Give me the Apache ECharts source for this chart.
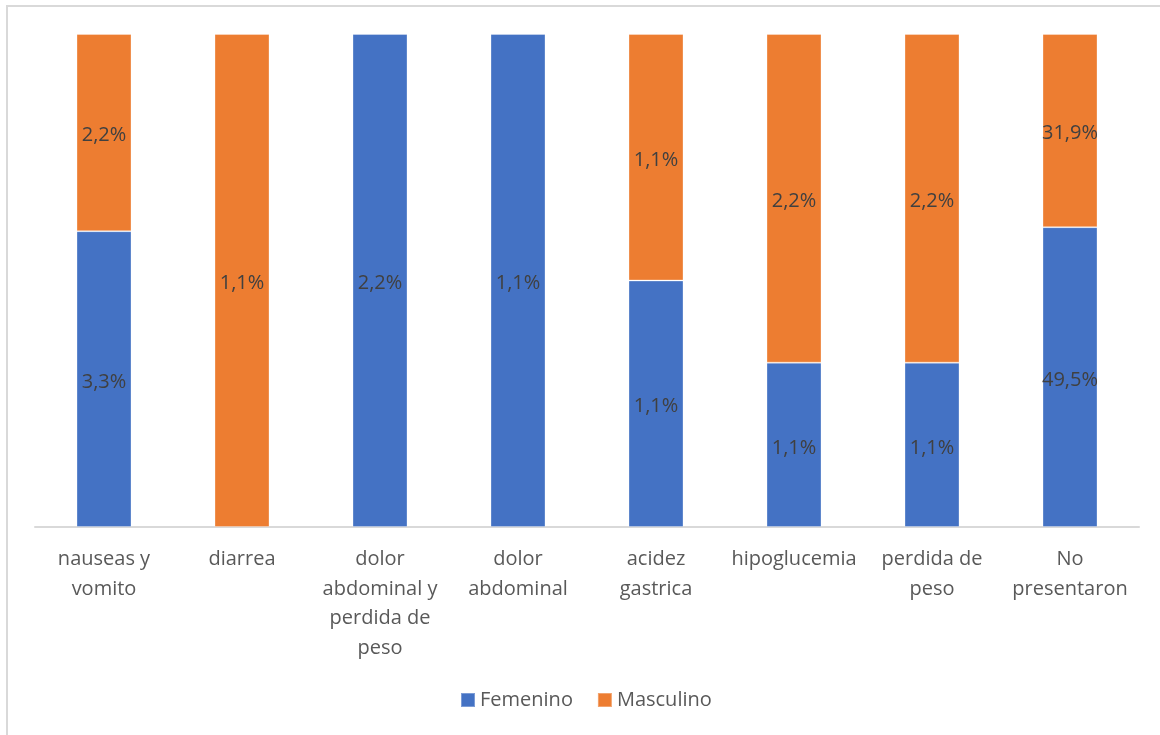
<!DOCTYPE html>
<html>
<head>
<meta charset="utf-8">
<script src="https://cdn.jsdelivr.net/npm/echarts@6/dist/echarts.min.js"></script>
<style>
  html, body { margin: 0; padding: 0; background: #fff; }
  #frame { position: absolute; left: 6px; top: 5px; width: 1200px; height: 800px;
           border: 2px solid #d9d9d9; box-sizing: border-box; }
  #chart { position: absolute; left: 0; top: 0; width: 1160px; height: 735px; }
</style>
</head>
<body>
<div id="frame"></div>
<div id="chart"></div>
<script>
// Symptom categories (tick labels, wrapped as on the axis)
const categories = [
  'nauseas y\nvomito',
  'diarrea',
  'dolor\nabdominal y\nperdida de\npeso',
  'dolor\nabdominal',
  'acidez\ngastrica',
  'hipoglucemia',
  'perdida de\npeso',
  'No\npresentaron'
];
// Percentages per sex (null = no cases)
const femenino  = [3.3, null, 2.2, 1.1, 1.1, 1.1, 1.1, 49.5];
const masculino = [2.2, 1.1, null, null, 1.1, 2.2, 2.2, 31.9];

// Each column is drawn as a 100% stack of its two values
function shares(vals) {
  return vals.map((v, i) => {
    if (v == null) return null;
    const total = (femenino[i] || 0) + (masculino[i] || 0);
    return { value: v / total * 100, raw: v };
  });
}

const fmt = p => (p.data && p.data.raw != null) ? p.data.raw.toFixed(1).replace('.', ',') + '%' : '';
const FONT = '"Open Sans", sans-serif';

const chart = echarts.init(document.getElementById('chart'), null, { renderer: 'canvas' });
chart.setOption({
  animation: false,
  textStyle: { fontFamily: FONT },
  grid: { left: 35, right: 21, top: 34, bottom: 208, containLabel: false },
  legend: {
    bottom: 20,
    left: 455,
    icon: 'rect',
    itemWidth: 14,
    itemHeight: 14,
    itemGap: 24,
    textStyle: { fontFamily: FONT, fontSize: 20, color: '#595959' },
    data: ['Femenino', 'Masculino']
  },
  xAxis: {
    type: 'category',
    data: categories,
    axisLine: { lineStyle: { color: '#d9d9d9', width: 2 } },
    axisTick: { show: false },
    axisLabel: {
      interval: 0,
      margin: 18,
      fontFamily: FONT,
      fontSize: 20,
      lineHeight: 29.5,
      color: '#595959'
    }
  },
  yAxis: {
    type: 'value',
    min: 0,
    max: 100,
    show: false,
    splitLine: { show: false }
  },
  series: [
    {
      name: 'Femenino',
      type: 'bar',
      stack: 'total',
      barWidth: 55,
      data: shares(femenino),
      itemStyle: { color: '#4472C4', borderColor: 'rgba(255,255,255,0.3)', borderWidth: 1 },
      label: { show: true, position: 'inside', offset: [0, 3], formatter: fmt,
               fontFamily: FONT, fontSize: 20, color: '#404040' }
    },
    {
      name: 'Masculino',
      type: 'bar',
      stack: 'total',
      barWidth: 55,
      data: shares(masculino),
      itemStyle: { color: '#ED7D31', borderColor: 'rgba(255,255,255,0.3)', borderWidth: 1 },
      label: { show: true, position: 'inside', offset: [0, 3], formatter: fmt,
               fontFamily: FONT, fontSize: 20, color: '#404040' }
    }
  ]
});
</script>
</body>
</html>
